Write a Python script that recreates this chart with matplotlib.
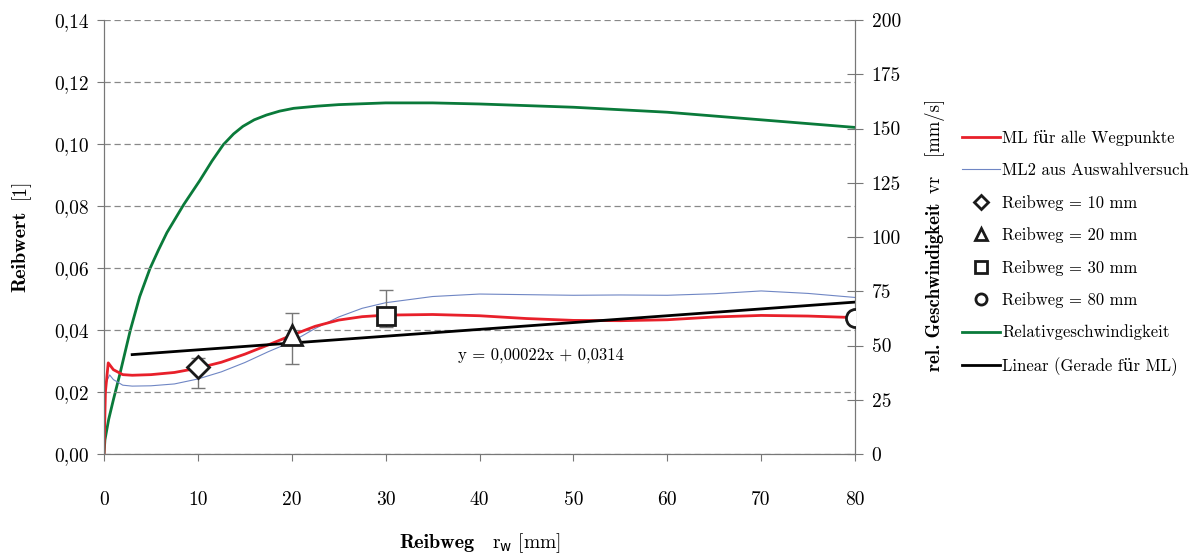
import numpy as np
import matplotlib.pyplot as plt
from matplotlib.lines import Line2D

# Reibwert-Kurven (linke Achse)
x_ml = [0, 0.15, 0.45, 1, 2, 3, 5, 7.5, 10, 12.5, 15, 17.5, 20, 22.5, 25, 27.5, 30,
        35, 40, 45, 50, 55, 60, 65, 70, 75, 80]
ml = [0, 0.020, 0.0294, 0.0272, 0.0256, 0.0254, 0.0256, 0.0263, 0.0277, 0.0296, 0.0322,
      0.0352, 0.0383, 0.0412, 0.0432, 0.0443, 0.0448, 0.0450, 0.0446, 0.0437, 0.0431,
      0.0430, 0.0433, 0.0442, 0.0447, 0.0445, 0.0440]

x_ml2 = [0.3, 0.6, 1, 2, 3, 5, 7.5, 10, 12.5, 15, 17.5, 20, 22.5, 25, 27.5, 30,
         35, 40, 45, 50, 55, 60, 65, 70, 75, 80]
ml2 = [0.0235, 0.0255, 0.0240, 0.0222, 0.0219, 0.0220, 0.0226, 0.0242, 0.0265, 0.0295,
       0.0330, 0.0362, 0.0405, 0.0442, 0.0470, 0.0488, 0.0508, 0.0516, 0.0514, 0.0512,
       0.0513, 0.0512, 0.0517, 0.0526, 0.0518, 0.0505]

# Messpunkte mit Streuung
reibweg = [10, 20, 30, 80]
mw = [0.0282, 0.0384, 0.0445, 0.0439]
err_lo = [0.0213, 0.0289, 0.0409, 0.0439]
err_hi = [0.0310, 0.0456, 0.0529, 0.0439]
marker = ['D', '^', 's', 'o']
msize = [11, 15, 13, 13]

# Relativgeschwindigkeit (rechte Achse)
x_v = [0, 0.1, 0.5, 1.0, 1.7, 2.8, 3.8, 4.9, 5.8, 6.7, 7.6, 8.5, 10.2, 11.5, 12.7,
       13.8, 14.8, 16, 17.3, 18.7, 20.2, 22.7, 25, 30, 35, 40, 50, 60, 70, 80]
v = [0, 6.5, 16, 25, 37, 57, 72.5, 85.5, 94, 102, 108.5, 115, 126, 135, 142.5,
     147.5, 151, 154, 156.2, 158, 159.3, 160.3, 161, 161.8, 161.8, 161.3, 159.8,
     157.5, 154, 150.5]

# Ausgleichsgerade
x_lin = [3, 80]
y_lin = [0.00022 * 3 + 0.0314, 0.00022 * 80 + 0.0314]

plt.rcParams['font.family'] = ['cmr10', 'DejaVu Serif']
plt.rcParams['font.size'] = 14

fig = plt.figure(figsize=(12.02, 5.53), dpi=100)
ax = fig.add_axes([104/1202, 1-454/553, (855-104)/1202, (454-20)/553])
ax2 = ax.twinx()

ax.plot(x_ml2, ml2, color='#6f86c4', lw=0.8)
ax.plot(x_ml, ml, color='#e8202a', lw=2)
ax.plot(x_lin, y_lin, color='black', lw=2)
for i in range(len(reibweg)):
    ax.errorbar(reibweg[i], mw[i], yerr=[[mw[i]-err_lo[i]], [err_hi[i]-mw[i]]],
                fmt='none', ecolor='#777777', elinewidth=1, capsize=5)
    ax.plot(reibweg[i], mw[i], marker=marker[i], ms=msize[i], mfc='white',
            mec='#1a1a1a', mew=2, ls='none', zorder=5)
ax.text(37.7, 0.0319, 'y = 0,00022x + 0,0314', ha='left', va='center', fontsize=12)

ax2.plot(x_v, v, color='#0a7a3a', lw=2)

ax.set_xlim(0, 80)
ax.set_ylim(0, 0.14)
ax2.set_ylim(0, 200)
ax.set_zorder(ax2.get_zorder() + 1)
ax.patch.set_visible(False)

yt = np.arange(0, 0.141, 0.02)
ax.set_yticks(yt)
ax.set_yticklabels([f'{t:.2f}'.replace('.', ',') for t in yt])
ax.set_xticks(range(0, 81, 10))
ax2.set_yticks(range(0, 201, 25))
ax.yaxis.grid(True, ls=(0, (5, 3)), color='#888888', lw=0.9)

for s in ['top']:
    ax.spines[s].set_visible(False)
    ax2.spines[s].set_visible(False)
for s in ['left', 'bottom', 'right']:
    ax.spines[s].set_color('#777777')
    ax2.spines[s].set_color('#777777')

ax.tick_params(axis='x', direction='out', length=5, pad=22, color='#777777')
ax.tick_params(axis='y', direction='out', length=5, pad=6, color='#777777')
ax2.tick_params(axis='y', direction='inout', length=12, pad=6, color='#777777')

bold = ['cmb10', 'DejaVu Serif']
fig.text(20/1202, 1-251/553, 'Reibwert', rotation=90, ha='center', va='center',
         fontsize=14.5, family=bold)
fig.text(20/1202, 1-189/553, '[1]', rotation=90, ha='center', va='center', fontsize=14)
fig.text(935/1202, 1-287/553, 'rel. Geschwindigkeit', rotation=90, ha='center', va='center',
         fontsize=13.5, family=bold)
fig.text(935/1202, 1-146/553, 'vr   [mm/s]', rotation=90, ha='center', va='center', fontsize=13.5)
fig.text(474/1202, 1-543/553, 'Reibweg', ha='right', va='center', fontsize=14.5, family=bold)
fig.text(492/1202, 1-543/553, r'r$_{\mathrm{w}}$ [mm]', ha='left', va='center', fontsize=14)

handles = [
    Line2D([], [], color='#e8202a', lw=2),
    Line2D([], [], color='#6f86c4', lw=0.8),
    Line2D([], [], marker='D', ms=7, mfc='white', mec='#1a1a1a', mew=2, ls='none'),
    Line2D([], [], marker='^', ms=8, mfc='white', mec='#1a1a1a', mew=2, ls='none'),
    Line2D([], [], marker='s', ms=8, mfc='white', mec='#1a1a1a', mew=2, ls='none'),
    Line2D([], [], marker='o', ms=8, mfc='white', mec='#1a1a1a', mew=2, ls='none'),
    Line2D([], [], color='#0a7a3a', lw=2),
    Line2D([], [], color='black', lw=2),
]
labels = ['ML für alle Wegpunkte', 'ML2 aus Auswahlversuch', 'Reibweg = 10 mm',
          'Reibweg = 20 mm', 'Reibweg = 30 mm', 'Reibweg = 80 mm',
          'Relativgeschwindigkeit', 'Linear (Gerade für ML)']
fig.legend(handles, labels, loc='center left', bbox_to_anchor=(962/1202, 1-253/553),
           frameon=False, fontsize=12, labelspacing=1.0, handlelength=2.3,
           handletextpad=0.1, borderaxespad=0, borderpad=0)

fig.savefig('out.png', dpi=100, facecolor='white')
